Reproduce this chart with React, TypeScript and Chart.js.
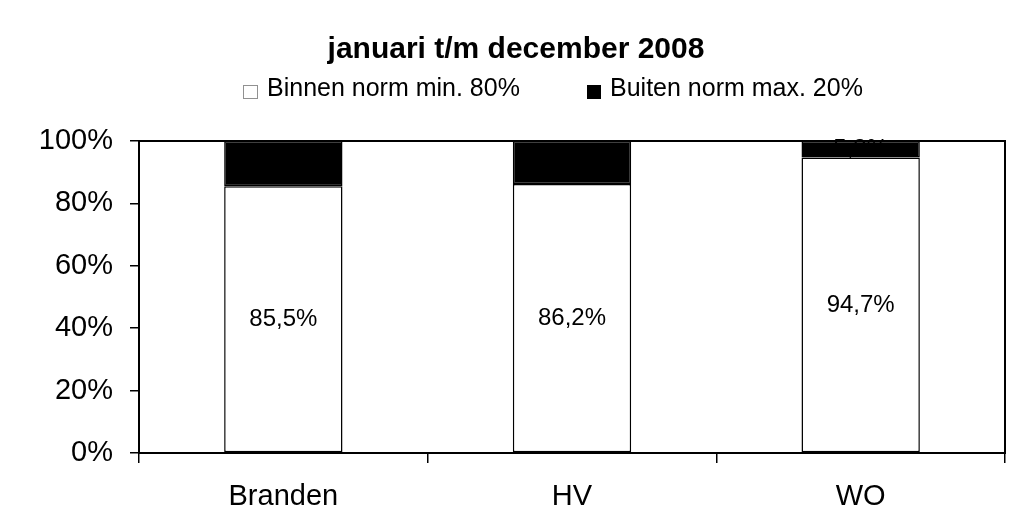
import React, { useEffect, useRef } from "react";
import { Chart, registerables } from "chart.js";

Chart.register(...registerables);

const categories = ["Branden", "HV", "WO"];
const binnenLabel = "Binnen norm min. 80%";
const buitenLabel = "Buiten norm max. 20%";
const binnenValues = [85.5, 86.2, 94.7];
const buitenValues = [14.5, 13.8, 5.3];
const yTicks = [0, 20, 40, 60, 80, 100];
const titleText = "januari t/m december 2008";

const FONT = "'Liberation Sans', Arial, sans-serif";

const fmt = (v: number) => v.toFixed(1).replace(".", ",") + "%";

const overlayPlugin = {
  id: "overlay",
  afterDatasetsDraw(chart: any) {
    const ctx = chart.ctx as CanvasRenderingContext2D;
    const area = chart.chartArea;
    ctx.save();
    // frame around plot area
    ctx.strokeStyle = "#000";
    ctx.lineWidth = 2;
    ctx.strokeRect(area.left, area.top, area.right - area.left, area.bottom - area.top);

    // data labels
    ctx.fillStyle = "#000";
    ctx.font = `24px ${FONT}`;
    ctx.textAlign = "center";
    ctx.textBaseline = "middle";
    chart.data.datasets.forEach((ds: any, di: number) => {
      const meta = chart.getDatasetMeta(di);
      meta.data.forEach((el: any, i: number) => {
        const v = ds.data[i] as number;
        const y = (el.y + el.base) / 2;
        ctx.fillText(fmt(v), el.x, y);
      });
    });
    ctx.restore();
  },
  afterDraw(chart: any) {
    const ctx = chart.ctx as CanvasRenderingContext2D;
    ctx.save();
    // title
    ctx.fillStyle = "#000";
    ctx.font = `bold 30px ${FONT}`;
    ctx.textAlign = "center";
    ctx.textBaseline = "alphabetic";
    ctx.fillText(titleText, 516, 58);

    // legend
    ctx.font = `25px ${FONT}`;
    ctx.textAlign = "left";
    // item 1
    ctx.fillStyle = "#fff";
    ctx.fillRect(243, 85, 15, 14);
    ctx.setLineDash([1, 1]);
    ctx.strokeStyle = "#222";
    ctx.lineWidth = 1;
    ctx.strokeRect(243.5, 85.5, 14, 13);
    ctx.setLineDash([]);
    ctx.fillStyle = "#000";
    ctx.fillText(binnenLabel, 267, 96);
    // item 2
    ctx.fillStyle = "#000";
    ctx.fillRect(587, 85, 14, 14);
    ctx.fillText(buitenLabel, 610, 96);
    ctx.restore();
  },
};

export default function App() {
  const ref = useRef<HTMLCanvasElement | null>(null);

  useEffect(() => {
    if (!ref.current) return;
    const chart = new Chart(ref.current, {
      type: "bar",
      data: {
        labels: categories,
        datasets: [
          {
            label: binnenLabel,
            data: binnenValues,
            backgroundColor: "#ffffff",
            borderColor: "#000000",
            borderWidth: 1.5,
            borderSkipped: false,
            barPercentage: 0.41,
            categoryPercentage: 1,
          },
          {
            label: buitenLabel,
            data: buitenValues,
            backgroundColor: "#000000",
            borderColor: "#000000",
            borderWidth: 1.5,
            borderSkipped: false,
            barPercentage: 0.41,
            categoryPercentage: 1,
          },
        ],
      },
      options: {
        responsive: false,
        animation: false,
        devicePixelRatio: 1,
        layout: { padding: { top: 141, left: 0, right: 7, bottom: 0 } },
        plugins: {
          legend: { display: false },
          title: { display: false },
          tooltip: { enabled: false },
        },
        scales: {
          x: {
            stacked: true,
            afterFit: (axis: any) => {
              axis.height = 65;
            },
            grid: {
              display: true,
              offset: true,
              drawOnChartArea: false,
              drawTicks: true,
              tickLength: 10,
              color: "#000",
              lineWidth: 1.5,
            },
            border: { display: true, color: "#000", width: 2 },
            ticks: {
              color: "#000",
              font: { family: FONT, size: 29 },
              padding: 17,
            },
          },
          y: {
            stacked: true,
            min: 0,
            max: 100,
            afterFit: (axis: any) => {
              axis.width = 139;
            },
            afterBuildTicks: (axis: any) => {
              axis.ticks = yTicks.map((v) => ({ value: v }));
            },
            grid: {
              display: true,
              drawOnChartArea: false,
              drawTicks: true,
              tickLength: 9,
              color: "#000",
              lineWidth: 1.5,
            },
            border: { display: true, color: "#000", width: 2 },
            ticks: {
              color: "#000",
              font: { family: FONT, size: 29 },
              padding: 17,
              callback: (v: any) => `${v}%`,
            },
          },
        },
      },
      plugins: [overlayPlugin],
    });
    return () => chart.destroy();
  }, []);

  return (
    <div style={{ position: "absolute", left: 0, top: 0, width: 1012, height: 518, background: "#fff" }}>
      <canvas ref={ref} width={1012} height={518} style={{ width: 1012, height: 518 }} />
    </div>
  );
}
